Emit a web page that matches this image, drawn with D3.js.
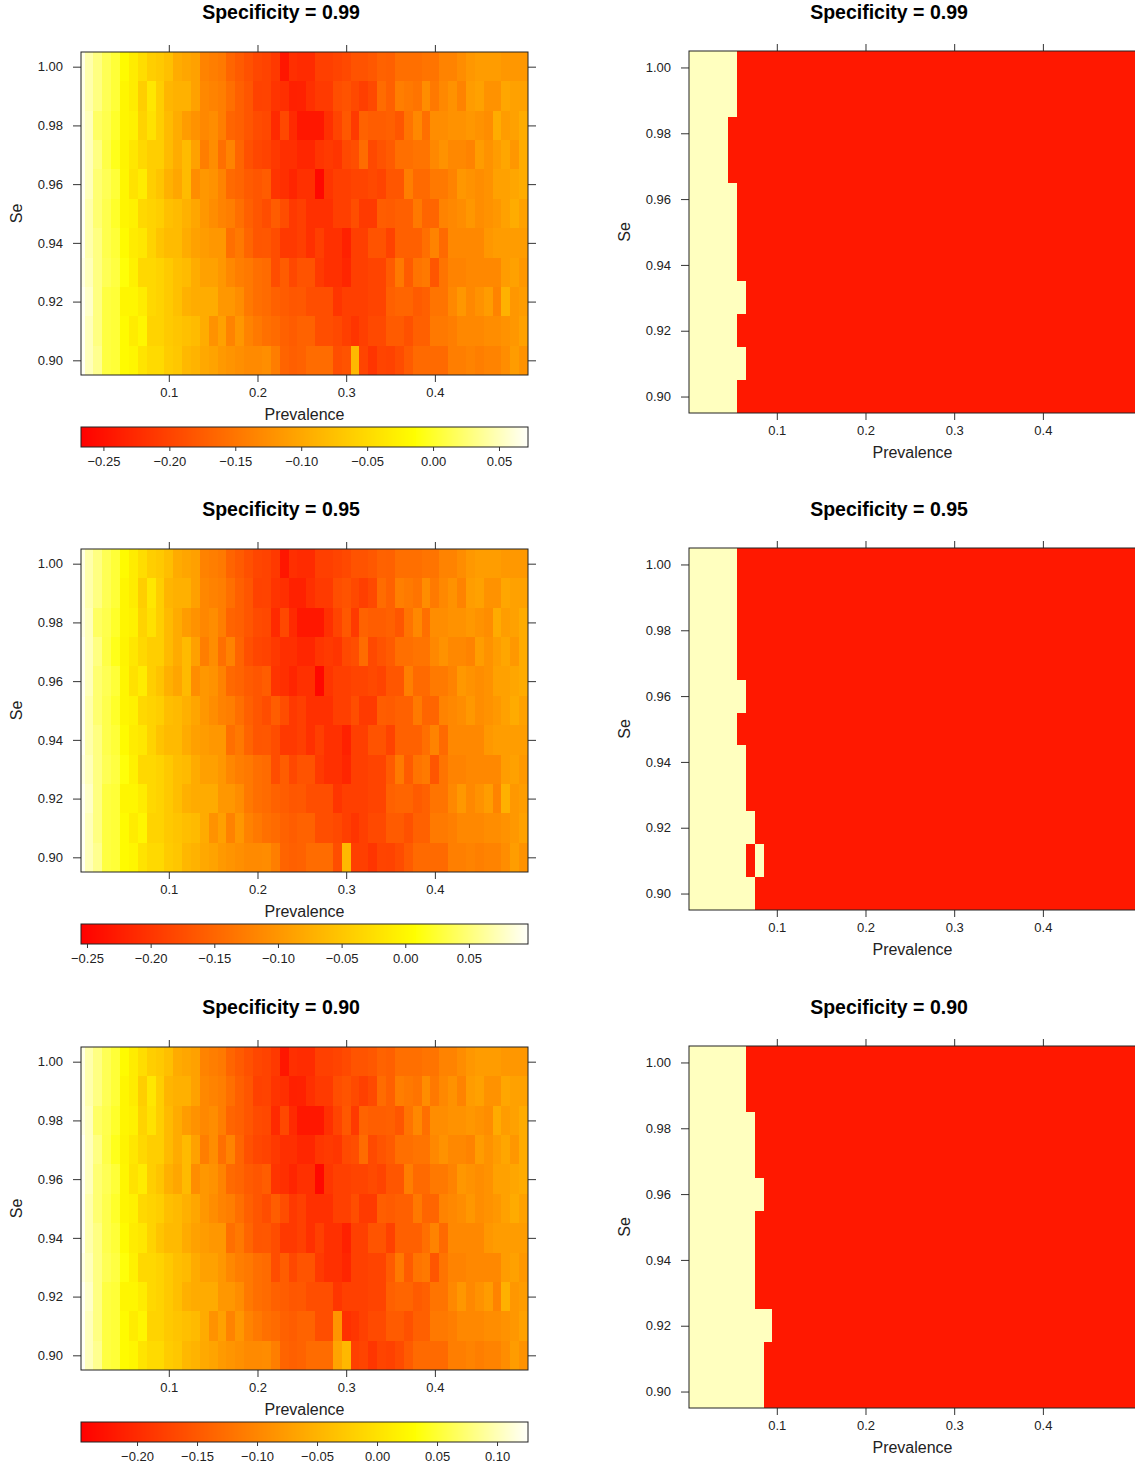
<!DOCTYPE html>
<html>
<head>
<meta charset="utf-8">
<script src="https://cdn.jsdelivr.net/npm/d3@7"></script>
<style>
  body { margin: 0; background: #fff; }
  svg { display: block; }
  text { font-family: "Liberation Sans", Arial, Helvetica, sans-serif; }
</style>
</head>
<body>
<script>
// ---------- grid ----------
const prevalence = [0.001, 0.01, 0.02, 0.03, 0.04, 0.05, 0.06, 0.07, 0.08, 0.09, 0.10,
  0.11, 0.12, 0.13, 0.14, 0.15, 0.16, 0.17, 0.18, 0.19, 0.20,
  0.21, 0.22, 0.23, 0.24, 0.25, 0.26, 0.27, 0.28, 0.29, 0.30,
  0.31, 0.32, 0.33, 0.34, 0.35, 0.36, 0.37, 0.38, 0.39, 0.40,
  0.41, 0.42, 0.43, 0.44, 0.45, 0.46, 0.47, 0.48, 0.49, 0.50];
const seValues = [1.00, 0.99, 0.98, 0.97, 0.96, 0.95, 0.94, 0.93, 0.92, 0.91, 0.90];

// ---------- difference surfaces (rows: Se 1.00 -> 0.90, columns: prevalence) ----------
const sp99 = [
  [0.065,0.045,0.03,0.015,0.005, -0.017,-0.032,-0.047,-0.062,-0.067, -0.076,-0.096,-0.101,-0.106,-0.136, -0.141,-0.146,-0.166,-0.176,-0.186, -0.196,-0.2,-0.21,-0.245,-0.22, -0.224,-0.224,-0.204,-0.204,-0.199, -0.194,-0.184,-0.184,-0.179,-0.169, -0.171,-0.156,-0.156,-0.156,-0.151, -0.151,-0.136,-0.136,-0.126,-0.116, -0.111,-0.111,-0.111,-0.116,-0.116, -0.116],
  [0.065,0.045,0.03,0.015,0.005, -0.022,-0.032,-0.062,-0.037,-0.062, -0.086,-0.091,-0.091,-0.106,-0.131, -0.136,-0.141,-0.156,-0.171,-0.181, -0.201,-0.2,-0.215,-0.22,-0.235, -0.234,-0.219,-0.209,-0.209,-0.189, -0.184,-0.194,-0.204,-0.194,-0.159, -0.171,-0.141,-0.146,-0.151,-0.126, -0.146,-0.131,-0.121,-0.136,-0.111, -0.106,-0.121,-0.121,-0.101,-0.106, -0.106],
  [0.065,0.05,0.02,0.012,0.0, -0.022,-0.027,-0.057,-0.042,-0.062, -0.081,-0.096,-0.111,-0.121,-0.131, -0.126,-0.141,-0.166,-0.171,-0.181, -0.191,-0.195,-0.225,-0.195,-0.225, -0.244,-0.244,-0.244,-0.219,-0.199, -0.179,-0.209,-0.169,-0.174,-0.174, -0.171,-0.181,-0.151,-0.131,-0.156, -0.126,-0.126,-0.121,-0.121,-0.116, -0.121,-0.126,-0.096,-0.111,-0.106, -0.096],
  [0.07,0.05,0.03,0.01,-0.005, -0.024,-0.037,-0.052,-0.062,-0.062, -0.081,-0.096,-0.081,-0.106,-0.141, -0.126,-0.156,-0.136,-0.166,-0.186, -0.196,-0.2,-0.21,-0.22,-0.22, -0.229,-0.229,-0.214,-0.209,-0.214, -0.194,-0.189,-0.159,-0.194,-0.184, -0.176,-0.156,-0.156,-0.151,-0.151, -0.131,-0.121,-0.131,-0.131,-0.136, -0.111,-0.121,-0.111,-0.101,-0.116, -0.096],
  [0.07,0.05,0.025,0.015,0.005, -0.022,-0.042,-0.032,-0.062,-0.072, -0.091,-0.101,-0.081,-0.126,-0.116, -0.121,-0.136,-0.161,-0.166,-0.176, -0.181,-0.175,-0.215,-0.22,-0.23, -0.219,-0.219,-0.259,-0.214,-0.204, -0.204,-0.199,-0.199,-0.194,-0.199, -0.181,-0.181,-0.141,-0.161,-0.161, -0.146,-0.146,-0.136,-0.116,-0.121, -0.126,-0.121,-0.106,-0.106,-0.101, -0.096],
  [0.07,0.045,0.025,0.012,0.0, -0.022,-0.027,-0.052,-0.057,-0.062, -0.076,-0.081,-0.091,-0.101,-0.116, -0.126,-0.136,-0.141,-0.156,-0.171, -0.181,-0.19,-0.175,-0.19,-0.21, -0.204,-0.219,-0.219,-0.219,-0.204, -0.204,-0.189,-0.209,-0.209,-0.174, -0.176,-0.171,-0.171,-0.146,-0.166, -0.166,-0.136,-0.131,-0.126,-0.116, -0.126,-0.121,-0.116,-0.106,-0.096, -0.106],
  [0.07,0.045,0.03,0.012,0.005, -0.017,-0.032,-0.037,-0.057,-0.072, -0.081,-0.081,-0.096,-0.106,-0.111, -0.116,-0.116,-0.156,-0.146,-0.166, -0.181,-0.18,-0.19,-0.21,-0.21, -0.204,-0.219,-0.204,-0.219,-0.219, -0.234,-0.204,-0.204,-0.184,-0.184, -0.201,-0.171,-0.171,-0.171,-0.156, -0.136,-0.161,-0.131,-0.131,-0.131, -0.131,-0.116,-0.111,-0.111,-0.111, -0.111],
  [0.065,0.05,0.03,0.015,0.008, -0.012,-0.027,-0.052,-0.052,-0.057, -0.066,-0.076,-0.081,-0.096,-0.106, -0.106,-0.116,-0.131,-0.141,-0.146, -0.156,-0.16,-0.19,-0.175,-0.195, -0.184,-0.184,-0.209,-0.219,-0.219, -0.229,-0.204,-0.204,-0.199,-0.199, -0.176,-0.146,-0.176,-0.151,-0.146, -0.181,-0.151,-0.136,-0.136,-0.131, -0.131,-0.131,-0.131,-0.111,-0.106, -0.116],
  [0.07,0.055,0.03,0.008,0.005, -0.022,-0.022,-0.032,-0.052,-0.057, -0.066,-0.076,-0.091,-0.096,-0.096, -0.096,-0.116,-0.116,-0.126,-0.146, -0.156,-0.16,-0.17,-0.175,-0.18, -0.179,-0.189,-0.189,-0.189,-0.214, -0.204,-0.204,-0.204,-0.199,-0.199, -0.171,-0.166,-0.166,-0.176,-0.171, -0.151,-0.151,-0.131,-0.116,-0.131, -0.121,-0.111,-0.136,-0.091,-0.116, -0.111],
  [0.07,0.05,0.03,0.008,0.005, -0.017,-0.032,-0.022,-0.057,-0.057, -0.066,-0.071,-0.076,-0.081,-0.096, -0.121,-0.106,-0.136,-0.116,-0.136, -0.146,-0.155,-0.16,-0.17,-0.175, -0.169,-0.169,-0.189,-0.189,-0.194, -0.204,-0.214,-0.204,-0.194,-0.194, -0.176,-0.176,-0.186,-0.171,-0.171, -0.146,-0.146,-0.141,-0.131,-0.131, -0.131,-0.126,-0.126,-0.121,-0.116, -0.106],
  [0.07,0.05,0.035,0.008,0.005, -0.017,-0.022,-0.04,-0.05,-0.05, -0.064,-0.069,-0.084,-0.089,-0.099, -0.104,-0.114,-0.119,-0.124,-0.129, -0.129,-0.125,-0.142,-0.167,-0.172, -0.169,-0.159,-0.159,-0.159,-0.189, -0.184,-0.084,-0.199,-0.214,-0.199, -0.201,-0.191,-0.176,-0.161,-0.161, -0.161,-0.161,-0.141,-0.141,-0.136, -0.141,-0.136,-0.136,-0.126,-0.111, -0.121]
];

const sp95 = [
  [0.089,0.068,0.053,0.037,0.027, 0.004,-0.011,-0.027,-0.042,-0.047, -0.058,-0.078,-0.084,-0.089,-0.120, -0.125,-0.130,-0.151,-0.161,-0.172, -0.182,-0.185,-0.196,-0.232,-0.206, -0.210,-0.210,-0.190,-0.190,-0.184, -0.179,-0.169,-0.169,-0.164,-0.153, -0.155,-0.140,-0.140,-0.140,-0.135, -0.135,-0.119,-0.119,-0.109,-0.098, -0.093,-0.093,-0.093,-0.098,-0.098, -0.098],
  [0.089,0.068,0.053,0.037,0.027, -0.001,-0.011,-0.042,-0.016,-0.042, -0.068,-0.073,-0.073,-0.089,-0.115, -0.120,-0.125,-0.140,-0.156,-0.166, -0.187,-0.185,-0.201,-0.206,-0.221, -0.221,-0.205,-0.195,-0.195,-0.174, -0.169,-0.179,-0.190,-0.179,-0.143, -0.155,-0.124,-0.129,-0.135,-0.109, -0.129,-0.114,-0.104,-0.119,-0.093, -0.088,-0.104,-0.104,-0.083,-0.088, -0.088],
  [0.089,0.073,0.042,0.034,0.022, -0.001,-0.006,-0.037,-0.022,-0.042, -0.063,-0.078,-0.094,-0.104,-0.115, -0.109,-0.125,-0.151,-0.156,-0.166, -0.177,-0.180,-0.211,-0.180,-0.211, -0.231,-0.231,-0.231,-0.205,-0.184, -0.164,-0.195,-0.153,-0.159,-0.159, -0.155,-0.166,-0.135,-0.114,-0.140, -0.109,-0.109,-0.104,-0.104,-0.098, -0.104,-0.109,-0.078,-0.093,-0.088, -0.078],
  [0.094,0.073,0.053,0.032,0.016, -0.003,-0.016,-0.032,-0.042,-0.042, -0.063,-0.078,-0.063,-0.089,-0.125, -0.109,-0.140,-0.120,-0.151,-0.172, -0.182,-0.185,-0.196,-0.206,-0.206, -0.215,-0.215,-0.200,-0.195,-0.200, -0.179,-0.174,-0.143,-0.179,-0.169, -0.161,-0.140,-0.140,-0.135,-0.135, -0.114,-0.104,-0.114,-0.114,-0.119, -0.093,-0.104,-0.093,-0.083,-0.098, -0.078],
  [0.094,0.073,0.047,0.037,0.027, -0.001,-0.022,-0.011,-0.042,-0.053, -0.073,-0.084,-0.063,-0.109,-0.099, -0.104,-0.120,-0.146,-0.151,-0.161, -0.166,-0.159,-0.201,-0.206,-0.216, -0.205,-0.205,-0.247,-0.200,-0.190, -0.190,-0.184,-0.184,-0.179,-0.184, -0.166,-0.166,-0.124,-0.145,-0.145, -0.129,-0.129,-0.119,-0.098,-0.104, -0.109,-0.104,-0.088,-0.088,-0.083, -0.078],
  [0.094,0.068,0.047,0.034,0.022, -0.001,-0.006,-0.032,-0.037,-0.042, -0.058,-0.063,-0.073,-0.084,-0.099, -0.109,-0.120,-0.125,-0.140,-0.156, -0.166,-0.175,-0.159,-0.175,-0.196, -0.190,-0.205,-0.205,-0.205,-0.190, -0.190,-0.174,-0.195,-0.195,-0.159, -0.161,-0.155,-0.155,-0.129,-0.150, -0.150,-0.119,-0.114,-0.109,-0.098, -0.109,-0.104,-0.098,-0.088,-0.078, -0.088],
  [0.094,0.068,0.053,0.034,0.027, 0.004,-0.011,-0.016,-0.037,-0.053, -0.063,-0.063,-0.078,-0.089,-0.094, -0.099,-0.099,-0.140,-0.130,-0.151, -0.166,-0.165,-0.175,-0.196,-0.196, -0.190,-0.205,-0.190,-0.205,-0.205, -0.221,-0.190,-0.190,-0.169,-0.169, -0.186,-0.155,-0.155,-0.155,-0.140, -0.119,-0.145,-0.114,-0.114,-0.114, -0.114,-0.098,-0.093,-0.093,-0.093, -0.093],
  [0.089,0.073,0.053,0.037,0.030, 0.010,-0.006,-0.032,-0.032,-0.037, -0.047,-0.058,-0.063,-0.078,-0.089, -0.089,-0.099,-0.115,-0.125,-0.130, -0.140,-0.144,-0.175,-0.159,-0.180, -0.169,-0.169,-0.195,-0.205,-0.205, -0.215,-0.190,-0.190,-0.184,-0.184, -0.161,-0.129,-0.161,-0.135,-0.129, -0.166,-0.135,-0.119,-0.119,-0.114, -0.114,-0.114,-0.114,-0.093,-0.088, -0.098],
  [0.094,0.078,0.053,0.030,0.027, -0.001,-0.001,-0.011,-0.032,-0.037, -0.047,-0.058,-0.073,-0.078,-0.078, -0.078,-0.099,-0.099,-0.109,-0.130, -0.140,-0.144,-0.154,-0.159,-0.165, -0.164,-0.174,-0.174,-0.174,-0.200, -0.190,-0.190,-0.190,-0.184,-0.184, -0.155,-0.150,-0.150,-0.161,-0.155, -0.135,-0.135,-0.114,-0.098,-0.114, -0.104,-0.093,-0.119,-0.073,-0.098, -0.093],
  [0.094,0.073,0.053,0.030,0.027, 0.004,-0.011,-0.001,-0.037,-0.037, -0.047,-0.052,-0.058,-0.063,-0.078, -0.104,-0.089,-0.120,-0.099,-0.120, -0.130,-0.139,-0.144,-0.154,-0.159, -0.153,-0.153,-0.174,-0.174,-0.179, -0.190,-0.200,-0.190,-0.179,-0.179, -0.161,-0.161,-0.171,-0.155,-0.155, -0.129,-0.129,-0.124,-0.114,-0.114, -0.114,-0.109,-0.109,-0.104,-0.098, -0.088],
  [0.094,0.073,0.058,0.030,0.027, 0.004,-0.001,-0.020,-0.031,-0.031, -0.045,-0.050,-0.066,-0.071,-0.081, -0.086,-0.097,-0.102,-0.107,-0.112, -0.112,-0.110,-0.125,-0.151,-0.156, -0.153,-0.143,-0.143,-0.143,-0.174, -0.065,-0.190,-0.190,-0.200,-0.184, -0.186,-0.176,-0.161,-0.145,-0.145, -0.145,-0.145,-0.124,-0.124,-0.119, -0.124,-0.119,-0.119,-0.109,-0.093, -0.104]
];

const sp90 = [
  [0.118,0.096,0.080,0.063,0.052, 0.028,0.012,-0.005,-0.021,-0.027, -0.037,-0.059,-0.065,-0.070,-0.103, -0.109,-0.114,-0.136,-0.147,-0.158, -0.169,-0.173,-0.184,-0.223,-0.195, -0.199,-0.199,-0.177,-0.177,-0.172, -0.166,-0.155,-0.155,-0.150,-0.138, -0.141,-0.125,-0.125,-0.125,-0.120, -0.120,-0.103,-0.103,-0.092,-0.081, -0.076,-0.076,-0.076,-0.081,-0.081, -0.081],
  [0.118,0.096,0.080,0.063,0.052, 0.023,0.012,-0.021,0.006,-0.021, -0.048,-0.054,-0.054,-0.070,-0.098, -0.103,-0.109,-0.125,-0.142,-0.152, -0.175,-0.173,-0.190,-0.195,-0.212, -0.210,-0.194,-0.183,-0.183,-0.161, -0.155,-0.166,-0.177,-0.166,-0.128, -0.141,-0.109,-0.114,-0.120,-0.092, -0.114,-0.098,-0.087,-0.103,-0.076, -0.070,-0.087,-0.087,-0.065,-0.070, -0.070],
  [0.118,0.102,0.069,0.060,0.047, 0.023,0.017,-0.016,0.001,-0.021, -0.043,-0.059,-0.076,-0.087,-0.098, -0.092,-0.109,-0.136,-0.142,-0.152, -0.164,-0.168,-0.201,-0.168,-0.201, -0.221,-0.221,-0.221,-0.194,-0.172, -0.150,-0.183,-0.138,-0.144,-0.144, -0.141,-0.153,-0.120,-0.098,-0.125, -0.092,-0.092,-0.087,-0.087,-0.081, -0.087,-0.092,-0.059,-0.076,-0.070, -0.059],
  [0.124,0.102,0.080,0.058,0.041, 0.021,0.006,-0.010,-0.021,-0.021, -0.043,-0.059,-0.043,-0.070,-0.109, -0.092,-0.125,-0.103,-0.136,-0.158, -0.169,-0.173,-0.184,-0.195,-0.195, -0.205,-0.205,-0.188,-0.183,-0.188, -0.166,-0.161,-0.128,-0.166,-0.155, -0.147,-0.125,-0.125,-0.120,-0.120, -0.098,-0.087,-0.098,-0.098,-0.103, -0.076,-0.087,-0.076,-0.065,-0.081, -0.059],
  [0.124,0.102,0.074,0.063,0.052, 0.023,0.001,0.012,-0.021,-0.032, -0.054,-0.065,-0.043,-0.092,-0.081, -0.087,-0.103,-0.131,-0.136,-0.147, -0.152,-0.145,-0.190,-0.195,-0.206, -0.194,-0.194,-0.238,-0.188,-0.177, -0.177,-0.172,-0.172,-0.166,-0.172, -0.153,-0.153,-0.109,-0.131,-0.131, -0.114,-0.114,-0.103,-0.081,-0.087, -0.092,-0.087,-0.070,-0.070,-0.065, -0.059],
  [0.124,0.096,0.074,0.060,0.047, 0.023,0.017,-0.010,-0.016,-0.021, -0.037,-0.043,-0.054,-0.065,-0.081, -0.092,-0.103,-0.109,-0.125,-0.142, -0.152,-0.162,-0.145,-0.162,-0.184, -0.177,-0.194,-0.194,-0.194,-0.177, -0.177,-0.161,-0.183,-0.183,-0.144, -0.147,-0.141,-0.141,-0.114,-0.136, -0.136,-0.103,-0.098,-0.092,-0.081, -0.092,-0.087,-0.081,-0.070,-0.059, -0.070],
  [0.124,0.096,0.080,0.060,0.052, 0.028,0.012,0.006,-0.016,-0.032, -0.043,-0.043,-0.059,-0.070,-0.076, -0.081,-0.081,-0.125,-0.114,-0.136, -0.152,-0.151,-0.162,-0.184,-0.184, -0.177,-0.194,-0.177,-0.194,-0.194, -0.210,-0.177,-0.177,-0.155,-0.155, -0.175,-0.141,-0.141,-0.141,-0.125, -0.103,-0.131,-0.098,-0.098,-0.098, -0.098,-0.081,-0.076,-0.076,-0.076, -0.076],
  [0.118,0.102,0.080,0.063,0.056, 0.034,0.017,-0.010,-0.010,-0.016, -0.026,-0.037,-0.043,-0.059,-0.070, -0.070,-0.081,-0.098,-0.109,-0.114, -0.125,-0.129,-0.162,-0.145,-0.168, -0.155,-0.155,-0.183,-0.194,-0.194, -0.205,-0.177,-0.177,-0.172,-0.172, -0.147,-0.114,-0.147,-0.120,-0.114, -0.153,-0.120,-0.103,-0.103,-0.098, -0.098,-0.098,-0.098,-0.076,-0.070, -0.081],
  [0.124,0.107,0.080,0.056,0.052, 0.023,0.023,0.012,-0.010,-0.016, -0.026,-0.037,-0.054,-0.059,-0.059, -0.059,-0.081,-0.081,-0.092,-0.114, -0.125,-0.129,-0.140,-0.145,-0.151, -0.150,-0.161,-0.161,-0.161,-0.188, -0.177,-0.177,-0.177,-0.172,-0.172, -0.141,-0.136,-0.136,-0.147,-0.141, -0.120,-0.120,-0.098,-0.081,-0.098, -0.087,-0.076,-0.103,-0.054,-0.081, -0.076],
  [0.124,0.102,0.080,0.056,0.052, 0.028,0.012,0.023,-0.016,-0.016, -0.026,-0.032,-0.037,-0.043,-0.059, -0.087,-0.070,-0.103,-0.081,-0.103, -0.114,-0.124,-0.129,-0.140,-0.145, -0.138,-0.138,-0.161,-0.161,-0.084, -0.194,-0.188,-0.177,-0.166,-0.166, -0.147,-0.147,-0.158,-0.141,-0.141, -0.114,-0.114,-0.109,-0.098,-0.098, -0.098,-0.092,-0.092,-0.087,-0.081, -0.070],
  [0.124,0.102,0.085,0.056,0.052, 0.028,0.023,0.003,-0.008,-0.008, -0.023,-0.029,-0.045,-0.051,-0.062, -0.067,-0.078,-0.084,-0.089,-0.095, -0.095,-0.093,-0.109,-0.137,-0.142, -0.138,-0.128,-0.128,-0.128,-0.067, -0.045,-0.177,-0.172,-0.188,-0.172, -0.175,-0.164,-0.147,-0.131,-0.131, -0.131,-0.131,-0.109,-0.109,-0.103, -0.109,-0.103,-0.103,-0.092,-0.076, -0.087]
];

// colour-key ranges and labels
const key99 = [-0.267, 0.072];
const key95 = [-0.2547, 0.0964];
const key90 = [-0.2467, 0.1258];
const keyTicks99 = [-0.25, -0.20, -0.15, -0.10, -0.05, 0.00, 0.05];
const keyTicks95 = [-0.25, -0.20, -0.15, -0.10, -0.05, 0.00, 0.05];
const keyTicks90 = [-0.20, -0.15, -0.10, -0.05, 0.00, 0.05, 0.10];

// binary maps: last prevalence (per Se row) of the light region, plus isolated flipped cells
const cut99 = [0.05, 0.05, 0.04, 0.04, 0.05, 0.05, 0.05, 0.06, 0.05, 0.06, 0.05];
const cut95 = [0.05, 0.05, 0.05, 0.05, 0.06, 0.05, 0.06, 0.06, 0.07, 0.08, 0.07];
const cut90 = [0.06, 0.06, 0.07, 0.07, 0.08, 0.07, 0.07, 0.07, 0.09, 0.08, 0.08];
const flips95 = [[0.91, 0.07]];

const titles = ["Specificity = 0.99", "Specificity = 0.95", "Specificity = 0.90"];
const xTicks = [0.1, 0.2, 0.3, 0.4];
const yTicks = [0.90, 0.92, 0.94, 0.96, 0.98, 1.00];

// ---------- helpers ----------
function heatColor(t) {
  t = Math.max(0, Math.min(1, t));
  if (t <= 0.75) return d3.rgb(255, 255 * t / 0.75, 0).formatHex();
  const s = 0.98 - 0.96 * (t - 0.75) / 0.25;
  return d3.rgb(255, 255, 255 * (1 - s)).formatHex();
}

const W = 1135, H = 1466;
const svg = d3.select("body").append("svg").attr("width", W).attr("height", H);

const plotW = 447;
const leftX0 = 81, rightX0 = 689;
const rowOff = [0, 497, 995];
const heatTop = 52, heatH = 323;
const binTop = 51, binH = 362;
const AXIS_COL = "#333", FRAME_COL = "#222", TEXT_COL = "#222";
const LIGHT = "#FFFFBF", RED = "#FF1800";

const x = d3.scaleLinear().domain([0.001, 0.505]).range([0, plotW]);
const yHeat = d3.scaleLinear().domain([0.895, 1.005]).range([heatH, 0]);
const yBin = d3.scaleLinear().domain([0.895, 1.005]).range([binH, 0]);

// cell edges along prevalence
const xEdges = prevalence.map((p, i) => {
  const lo = i === 0 ? p - (prevalence[1] - p) / 2 : (prevalence[i - 1] + p) / 2;
  const hi = i === prevalence.length - 1 ? p + (p - prevalence[i - 1]) / 2 : (p + prevalence[i + 1]) / 2;
  return [lo, hi];
});

let clipId = 0;
function frame(g, h) {
  const id = "clip" + (clipId++);
  g.append("clipPath").attr("id", id).append("rect").attr("width", plotW).attr("height", h);
  return id;
}

function styleAxis(sel) {
  sel.select(".domain").remove();
  sel.selectAll(".tick line").attr("stroke", AXIS_COL);
  sel.selectAll(".tick text").attr("fill", TEXT_COL).style("font-size", "13px")
     .style("font-family", '"Liberation Sans", Arial, sans-serif');
}

function axes(g, y, h, labelOffset) {
  g.append("g").attr("transform", `translate(0,${h})`)
    .call(d3.axisBottom(x).tickValues(xTicks).tickFormat(d3.format(".1f")).tickSize(7).tickPadding(6))
    .call(styleAxis);
  g.append("g")
    .call(d3.axisTop(x).tickValues(xTicks).tickFormat("").tickSize(7))
    .call(styleAxis);
  g.append("g")
    .call(d3.axisLeft(y).tickValues(yTicks).tickFormat(d3.format(".2f")).tickSize(8).tickPadding(10))
    .call(styleAxis);
  g.append("g").attr("transform", `translate(${plotW},0)`)
    .call(d3.axisRight(y).tickValues(yTicks).tickFormat("").tickSize(8))
    .call(styleAxis);
  g.append("rect").attr("width", plotW).attr("height", h)
    .attr("fill", "none").attr("stroke", FRAME_COL).attr("stroke-width", 1);
  g.append("text").attr("x", plotW / 2).attr("y", h + labelOffset)
    .attr("text-anchor", "middle").attr("fill", TEXT_COL).style("font-size", "16px").text("Prevalence");
  g.append("text").attr("transform", `translate(-59,${h / 2}) rotate(-90)`)
    .attr("text-anchor", "middle").attr("fill", TEXT_COL).style("font-size", "16px").text("Se");
}

function cellsData(grid) {
  const out = [];
  grid.forEach((row, r) => row.forEach((v, c) => out.push({ se: seValues[r], c, v })));
  return out;
}

function drawCells(g, clip, data, y, fill) {
  g.append("g").attr("clip-path", `url(#${clip})`).attr("shape-rendering", "crispEdges")
    .selectAll("rect").data(data).join("rect")
    .attr("x", d => x(xEdges[d.c][0]))
    .attr("width", d => x(xEdges[d.c][1]) - x(xEdges[d.c][0]))
    .attr("y", d => y(d.se + 0.005))
    .attr("height", d => y(d.se - 0.005) - y(d.se + 0.005))
    .attr("fill", fill);
}

function drawHeat(panelIdx, grid, key, keyTicks) {
  const off = rowOff[panelIdx];
  const g = svg.append("g").attr("transform", `translate(${leftX0},${heatTop + off})`);
  const id = frame(g, heatH);
  const col = v => heatColor((v - key[0]) / (key[1] - key[0]));
  drawCells(g, id, cellsData(grid), yHeat, d => col(d.v));
  axes(g, yHeat, heatH, 44.5);

  // colour key below the panel
  const kg = svg.append("g").attr("transform", `translate(${leftX0},${427 + off})`);
  const kx = d3.scaleLinear().domain(key).range([0, plotW]);
  const steps = d3.range(0, plotW, 1);
  kg.append("g").attr("shape-rendering", "crispEdges")
    .selectAll("rect").data(steps).join("rect")
    .attr("x", d => d).attr("width", 1).attr("height", 20)
    .attr("fill", d => col(kx.invert(d + 0.5)));
  kg.append("rect").attr("width", plotW).attr("height", 20)
    .attr("fill", "none").attr("stroke", FRAME_COL);
  kg.append("g").attr("transform", "translate(0,20)")
    .call(d3.axisBottom(kx).tickValues(keyTicks).tickFormat(d3.format(".2f")).tickSize(4).tickPadding(6))
    .call(styleAxis);
}

function drawBinary(panelIdx, cuts, flips) {
  const off = rowOff[panelIdx];
  const g = svg.append("g").attr("transform", `translate(${rightX0},${binTop + off})`);
  const id = frame(g, binH);
  const data = [];
  seValues.forEach((s, r) => prevalence.forEach((p, c) => {
    let light = p <= cuts[r] + 1e-9;
    if (flips.some(f => Math.abs(f[0] - s) < 1e-9 && Math.abs(f[1] - p) < 1e-9)) light = !light;
    data.push({ se: s, c, light });
  }));
  drawCells(g, id, data, yBin, d => d.light ? LIGHT : RED);
  axes(g, yBin, binH, 44.5);
}

// ---------- draw ----------
const grids = [sp99, sp95, sp90];
const keys = [key99, key95, key90];
const keyTickSets = [keyTicks99, keyTicks95, keyTicks90];
const cutSets = [cut99, cut95, cut90];
const flipSets = [[], flips95, []];

for (let i = 0; i < 3; i++) {
  svg.append("text").attr("x", 281).attr("y", 19 + rowOff[i]).attr("text-anchor", "middle")
    .style("font-size", "19.5px").style("font-weight", "bold").text(titles[i]);
  svg.append("text").attr("x", 889).attr("y", 19 + rowOff[i]).attr("text-anchor", "middle")
    .style("font-size", "19.5px").style("font-weight", "bold").text(titles[i]);
  drawHeat(i, grids[i], keys[i], keyTickSets[i]);
  drawBinary(i, cutSets[i], flipSets[i]);
}
</script>
</body>
</html>
